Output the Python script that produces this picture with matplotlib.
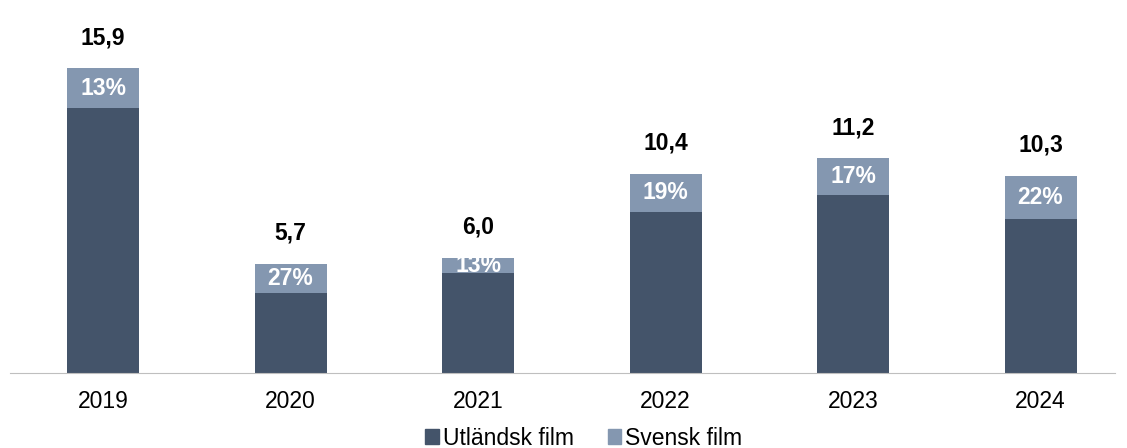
import matplotlib
matplotlib.use('Agg')
import matplotlib.pyplot as plt
from matplotlib.patches import Patch

plt.rcParams['font.family'] = ['Liberation Sans', 'DejaVu Sans']

years = ['2019', '2020', '2021', '2022', '2023', '2024']
totals = [15.9, 5.7, 6.0, 10.4, 11.2, 10.3]
svensk_share = [13, 27, 13, 19, 17, 22]

dark = '#44546A'
light = '#8497B0'

svensk = [t * s / 100 for t, s in zip(totals, svensk_share)]
utl = [t - s for t, s in zip(totals, svensk)]
x = list(range(len(years)))

fig = plt.figure(figsize=(11.27, 4.48), dpi=100)
ax = fig.add_axes([10 / 1127, 75 / 448, 1105 / 1127, 345 / 448])

w = 0.384
ax.bar(x, utl, width=w, color=dark)
ax.bar(x, svensk, width=w, bottom=utl, color=light)

for i in x:
    ax.text(i, utl[i] + svensk[i] / 2, f'{svensk_share[i]}%', ha='center', va='center',
            color='white', fontsize=16.5, fontweight='bold')
    ax.text(i, totals[i] + 1.6, f'{totals[i]:.1f}'.replace('.', ','), ha='center',
            va='center', color='black', fontsize=16.5, fontweight='bold')

ax.set_xlim(-0.496, 5.397)
ax.set_ylim(0, 18)
ax.set_xticks(x)
ax.set_xticklabels(years, fontsize=16.5)
ax.tick_params(axis='x', length=0, pad=12)
ax.set_yticks([])
for s in ['top', 'right', 'left']:
    ax.spines[s].set_visible(False)
ax.spines['bottom'].set_color('#bfbfbf')

handles = [Patch(color=dark, label='Utländsk film'), Patch(color=light, label='Svensk film')]
fig.legend(handles=handles, loc='center', bbox_to_anchor=(584 / 1127, 10 / 448), ncol=2,
           frameon=False, fontsize=16.5, handlelength=0.58, handleheight=0.58,
           handletextpad=0.2, columnspacing=1.45, borderpad=0)

fig.savefig('out.png', dpi=100)
